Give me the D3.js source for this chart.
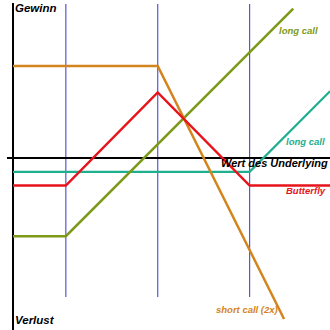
<!DOCTYPE html>
<html>
<head>
<meta charset="utf-8">
<script src="https://cdn.jsdelivr.net/npm/d3@7"></script>
<style>
  html, body { margin: 0; padding: 0; background: #fff; }
  svg { display: block; }
  text { font-family: "Liberation Sans", Arial, sans-serif; font-weight: bold; font-style: italic; }
</style>
</head>
<body>
<svg id="chart" width="330" height="330"></svg>
<script>
// Underlying value domain and strikes
const underlyingDomain = [17, 155];
const payoffDomain = [67.4, -74.8];
const strikes = [40, 80, 120];

// Payoff breakpoints per series: [underlying, payoff]
const shortCall2x = [[17, 40], [80, 40], [135, -70]];
const butterfly   = [[17, -12], [40, -12], [80, 28.5], [120, -12], [155, -12]];
const longCallK1  = [[17, -34], [40, -34], [139, 65]];
const longCallK3  = [[17, -6], [120, -6], [155, 29]];

const axisLabels = { profit: "Gewinn", loss: "Verlust", underlying: "Wert des Underlying" };
const seriesLabels = ["long call", "long call", "Butterfly", "short call (2x)"];

const svg = d3.select("#chart");
const x = d3.scaleLinear().domain(underlyingDomain).range([13, 330]);
const y = d3.scaleLinear().domain(payoffDomain).range([3, 330]);
const line = d3.line().x(d => x(d[0])).y(d => y(d[1]));

// strike guide lines
svg.selectAll("line.strike").data(strikes).enter().append("line")
  .attr("x1", d => x(d)).attr("x2", d => x(d))
  .attr("y1", 4).attr("y2", 297)
  .attr("stroke", "#5a55d2").attr("stroke-width", 1.2);

// axes
svg.append("line").attr("x1", x(underlyingDomain[0])).attr("x2", x(underlyingDomain[0]))
  .attr("y1", 3).attr("y2", 330).attr("stroke", "#000").attr("stroke-width", 2);
svg.append("line").attr("x1", 7).attr("x2", 330)
  .attr("y1", y(0)).attr("y2", y(0)).attr("stroke", "#000").attr("stroke-width", 2);

const series = [
  { data: longCallK3, color: "#1fae8e", w: 2.2 },
  { data: longCallK1, color: "#7c9a18", w: 2.5 },
  { data: shortCall2x, color: "#d4841c", w: 2.5 },
  { data: butterfly, color: "#e8141c", w: 2.5 }
];
svg.selectAll("path.s").data(series).enter().append("path")
  .attr("d", d => line(d.data))
  .attr("fill", "none")
  .attr("stroke", d => d.color)
  .attr("stroke-width", d => d.w)
  .attr("stroke-linejoin", "miter");

// labels
svg.append("text").attr("x", 15).attr("y", 12).attr("font-size", 11.5).attr("fill", "#000").text(axisLabels.profit);
svg.append("text").attr("x", 15).attr("y", 324).attr("font-size", 11.5).attr("fill", "#000").text(axisLabels.loss);
svg.append("text").attr("x", 221).attr("y", 167).attr("font-size", 11).attr("fill", "#000").text(axisLabels.underlying);

svg.append("text").attr("x", 279).attr("y", 34).attr("font-size", 9.5).attr("fill", "#7c9a18").text(seriesLabels[0]);
svg.append("text").attr("x", 286).attr("y", 145).attr("font-size", 9.5).attr("fill", "#1fae8e").text(seriesLabels[1]);
svg.append("text").attr("x", 286).attr("y", 194).attr("font-size", 9.5).attr("fill", "#e8141c").text(seriesLabels[2]);
svg.append("text").attr("x", 216).attr("y", 313).attr("font-size", 9.5).attr("fill", "#d4841c").text(seriesLabels[3]);
</script>
</body>
</html>
